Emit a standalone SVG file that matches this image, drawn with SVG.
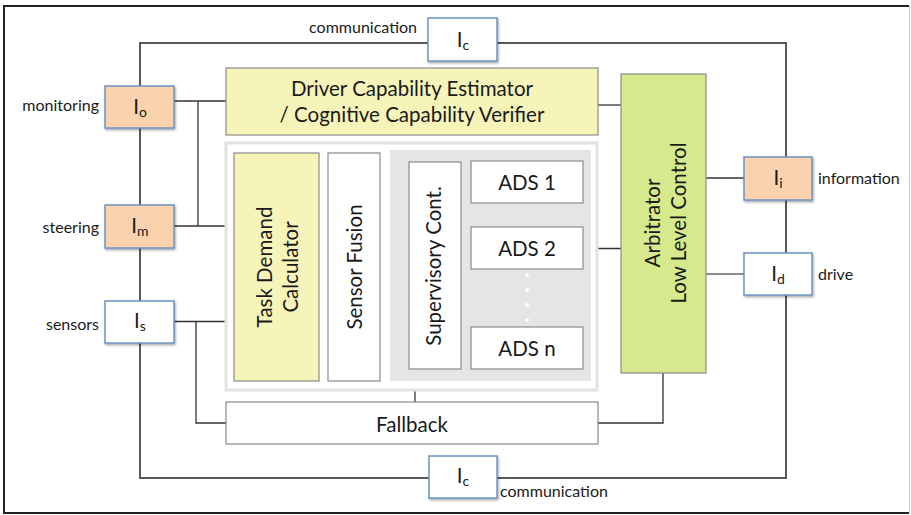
<svg xmlns="http://www.w3.org/2000/svg" width="911" height="515" viewBox="0 0 911 515">
<defs>
<filter id="sh" x="-10%" y="-10%" width="130%" height="140%">
<feDropShadow dx="1" dy="1.5" stdDeviation="1" flood-color="#000" flood-opacity="0.35"/>
</filter>
<style>
text{font-family:Lato,"Open Sans","Liberation Sans",sans-serif;fill:#1a1a1a}
.lbl{font-size:16px}
.big{font-size:20.5px}
.iface{stroke:#6F93C4;stroke-width:1.5}
.peach{fill:#FAD3AE}
.white{fill:#ffffff}
.box{stroke:#8A8A8A;stroke-width:1.2}
.yel{fill:#F7F4BA}
.grn{fill:#D6E98C}
.loop{fill:none;stroke:#595959;stroke-width:2}
.con{fill:none;stroke:#333;stroke-width:1.3}
.sub{font-size:14px}
</style>
</defs>
<rect x="0" y="0" width="911" height="515" fill="#ffffff"/>
<path d="M909,6 H4 V513 H909" fill="none" stroke="#222" stroke-width="2"/>
<line x1="909.5" y1="6" x2="909.5" y2="513" stroke="#cfcfcf" stroke-width="1"/>

<g id="connectors">
<rect class="loop" x="140" y="43" width="646" height="435"/>
<polyline class="con" points="174,101 226,101"/>
<polyline class="con" points="198,101 198,226"/>
<polyline class="con" points="174,226 234,226"/>
<polyline class="con" points="174,321.5 234,321.5"/>
<polyline class="con" points="196,321.5 196,423 226,423"/>
<polyline class="con" points="598,105 621,105"/>
<polyline class="con" points="583,248.5 621,248.5"/>
<polyline class="con" points="706,178 744,178"/>
<polyline class="con" points="706,274 744,274" style="stroke:#666"/>
<polyline class="con" points="663,373 663,423 598,423"/>
<polyline class="con" points="415,390 415,402"/>
</g>

<g id="container">
<rect x="226" y="143" width="371" height="247" fill="#ffffff" stroke="#E2E2E2" stroke-width="3"/>
<rect x="390" y="150" width="201" height="231" fill="#E5E5E5"/>
</g>

<g id="dce">
<rect class="box yel" x="226" y="68" width="372" height="67"/>
<text class="big" x="412" y="96" text-anchor="middle">Driver Capability Estimator</text>
<text class="big" x="412" y="122" text-anchor="middle">/ Cognitive Capability Verifier</text>
</g>

<g id="tdc">
<rect class="box yel" x="234" y="153" width="85" height="228"/>
<g transform="translate(277,267) rotate(-90)">
<text class="big" x="0" y="-5" text-anchor="middle">Task Demand</text>
<text class="big" x="0" y="21" text-anchor="middle">Calculator</text>
</g>
</g>

<g id="sensorfusion">
<rect class="box white" x="328" y="153" width="52" height="228"/>
<text class="big" transform="translate(354,267) rotate(-90)" x="0" y="8" text-anchor="middle">Sensor Fusion</text>
</g>

<g id="supervisory">
<rect class="box white" x="409" y="162" width="52" height="207"/>
<text class="big" transform="translate(435,266) rotate(-90)" x="0" y="6" text-anchor="middle">Supervisory Cont.</text>
</g>

<g id="ads1">
<rect class="box white" x="471" y="161" width="112" height="42"/>
<text class="big" x="527" y="190" text-anchor="middle">ADS 1</text>
</g>
<g id="ads2">
<rect class="box white" x="471" y="227" width="112" height="42"/>
<text class="big" x="527" y="256" text-anchor="middle">ADS 2</text>
</g>
<g id="dots" fill="#ffffff">
<circle cx="527" cy="275" r="2"/>
<circle cx="527" cy="290" r="2"/>
<circle cx="527" cy="305" r="2"/>
<circle cx="527" cy="320" r="2"/>
</g>
<g id="adsn">
<rect class="box white" x="471" y="327" width="112" height="42"/>
<text class="big" x="527" y="356" text-anchor="middle">ADS n</text>
</g>

<g id="arbitrator">
<rect class="box grn" x="621" y="74" width="85" height="299"/>
<g transform="translate(665,223) rotate(-90)">
<text class="big" x="0" y="-5" text-anchor="middle">Arbitrator</text>
<text class="big" x="0" y="21" text-anchor="middle">Low Level Control</text>
</g>
</g>

<g id="fallback">
<rect class="box white" x="226" y="402" width="372" height="42"/>
<text class="big" x="412" y="432" text-anchor="middle">Fallback</text>
</g>

<g id="Io">
<rect class="iface peach" x="105" y="86" width="69" height="42" filter="url(#sh)"/>
<text class="big" x="140" y="114" text-anchor="middle">I<tspan class="sub" dy="3">o</tspan></text>
</g>
<g id="Im">
<rect class="iface peach" x="105" y="205" width="69" height="43" filter="url(#sh)"/>
<text class="big" x="140" y="233" text-anchor="middle">I<tspan class="sub" dy="3">m</tspan></text>
</g>
<g id="Is">
<rect class="iface white" x="105" y="301" width="69" height="42" filter="url(#sh)"/>
<text class="big" x="140" y="328" text-anchor="middle">I<tspan class="sub" dy="3">s</tspan></text>
</g>
<g id="Ic-top">
<rect class="iface white" x="428" y="18" width="69" height="43" filter="url(#sh)"/>
<text class="big" x="463" y="47" text-anchor="middle">I<tspan class="sub" dy="3">c</tspan></text>
</g>
<g id="Ic-bottom">
<rect class="iface white" x="429" y="456" width="68" height="42" filter="url(#sh)"/>
<text class="big" x="463" y="483" text-anchor="middle">I<tspan class="sub" dy="3">c</tspan></text>
</g>
<g id="Ii">
<rect class="iface peach" x="744" y="157" width="68" height="43" filter="url(#sh)"/>
<text class="big" x="778" y="185" text-anchor="middle">I<tspan class="sub" dy="3">i</tspan></text>
</g>
<g id="Id">
<rect class="iface white" x="744" y="253" width="68" height="42" filter="url(#sh)"/>
<text class="big" x="778" y="281" text-anchor="middle">I<tspan class="sub" dy="3">d</tspan></text>
</g>

<g id="labels">
<text class="lbl" x="99" y="111" text-anchor="end">monitoring</text>
<text class="lbl" x="99" y="233" text-anchor="end">steering</text>
<text class="lbl" x="99" y="330" text-anchor="end">sensors</text>
<text class="lbl" x="818" y="184">information</text>
<text class="lbl" x="818" y="280">drive</text>
<text class="lbl" x="417" y="33" text-anchor="end">communication</text>
<text class="lbl" x="500" y="497">communication</text>
</g>
</svg>
